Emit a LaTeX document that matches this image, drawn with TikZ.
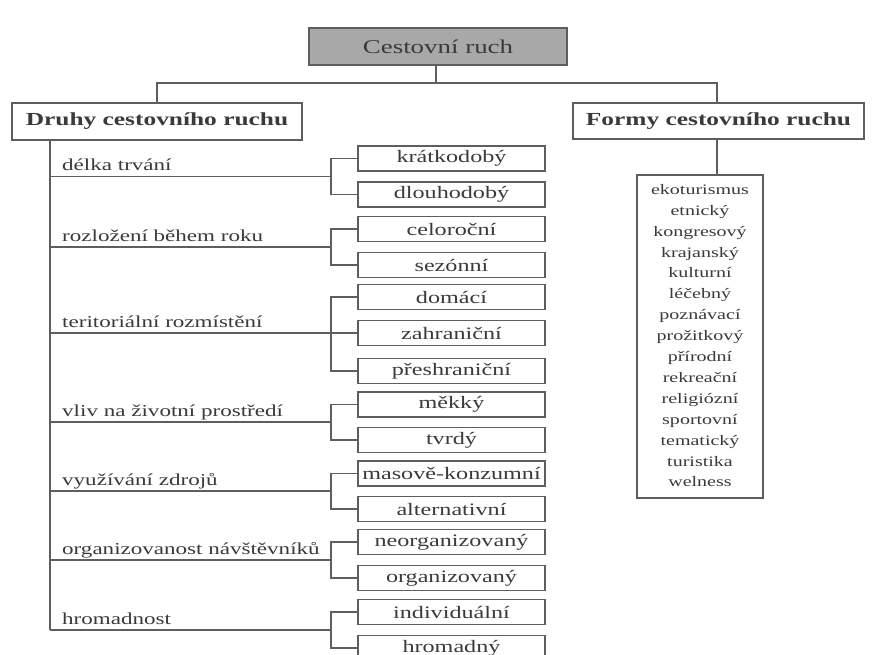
\documentclass[tikz,border=0pt]{standalone}
\usepackage{fontspec}
\setmainfont{Liberation Serif}
\usepackage{graphicx}
\definecolor{ink}{HTML}{3A3A3A}
\definecolor{edgec}{HTML}{5E5E5E}
\definecolor{topfill}{HTML}{A8A8A8}
\newcommand{\hs}[1]{\scalebox{1.38}[1]{#1}}
\begin{document}
\begin{tikzpicture}[x=1pt,y=-1pt,
  conn/.style={draw=edgec,line width=1.1pt},
  leafbox/.style={draw=edgec,line width=1.1pt,minimum width=187pt,minimum height=25pt,inner sep=0pt,text=ink,font=\fontsize{17.5}{20}\selectfont},
  headbox/.style={draw=edgec,line width=1.1pt,inner sep=0pt,text=ink,font=\bfseries\fontsize{18.4}{22}\selectfont},
  grplabel/.style={anchor=base west,inner sep=0pt,text=ink,font=\fontsize{16.7}{20}\selectfont}]
\useasboundingbox (0,0) rectangle (877,655);
\clip (0,0) rectangle (877,655);
\fill[white] (0,0) rectangle (877,655);
% top node and headings
\node[draw=edgec,line width=1.1pt,fill=topfill,minimum width=258pt,minimum height=37pt,inner sep=0pt,text=ink,font=\fontsize{19.5}{22}\selectfont] (top) at (438,46.5) {\hs{Cestovní ruch}};
\node[headbox,minimum width=290pt,minimum height=37pt] (druhy) at (157,121.5) {\hs{Druhy cestovního ruchu}};
\node[headbox,minimum width=291pt,minimum height=36pt] (formy) at (718.5,121) {\hs{Formy cestovního ruchu}};
\coordinate (bus) at (436,83);
\coordinate (fx) at (717,0);
\coordinate (spx) at (50,0);
\draw[conn] (top.south -| bus) -- (bus);
\draw[conn] (druhy.north) |- (bus) -| (formy.north -| fx);
% list of forms
\node[draw=edgec,line width=1.1pt,minimum width=126pt,minimum height=323pt,inner sep=0pt,text=ink,font=\fontsize{14.5}{20.9}\selectfont] (list) at (700,336.5)
 {\hs{\begin{tabular}{@{}c@{}}ekoturismus\\ etnický\\ kongresový\\ krajanský\\ kulturní\\ léčebný\\ poznávací\\ prožitkový\\ přírodní\\ rekreační\\ religiózní\\ sportovní\\ tematický\\ turistika\\ welness\end{tabular}}};
\draw[conn] (formy.south -| fx) -- (list.north -| fx);
% leaf boxes
\node[leafbox] (b1) at (451.5,158.5) {\hs{krátkodobý}};
\node[leafbox] (b2) at (451.5,194.5) {\hs{dlouhodobý}};
\node[leafbox] (b3) at (451.5,229) {\hs{celoroční}};
\node[leafbox] (b4) at (451.5,265) {\hs{sezónní}};
\node[leafbox] (b5) at (451.5,297) {\hs{domácí}};
\node[leafbox] (b6) at (451.5,333) {\hs{zahraniční}};
\node[leafbox] (b7) at (451.5,371) {\hs{přeshraniční}};
\node[leafbox] (b8) at (451.5,404.5) {\hs{měkký}};
\node[leafbox] (b9) at (451.5,440) {\hs{tvrdý}};
\node[leafbox] (b10) at (451.5,473.5) {\hs{masově-konzumní}};
\node[leafbox] (b11) at (451.5,509) {\hs{alternativní}};
\node[leafbox] (b12) at (451.5,542) {\hs{neorganizovaný}};
\node[leafbox] (b13) at (451.5,578) {\hs{organizovaný}};
\node[leafbox] (b14) at (451.5,612) {\hs{individuální}};
\node[leafbox] (b15) at (451.5,648) {\hs{hromadný}};
% group junctions
\coordinate (g1) at (331,176.5);
\coordinate (g2) at (331,247);
\coordinate (g3) at (331,333);
\coordinate (g4) at (331,422);
\coordinate (g5) at (331,491);
\coordinate (g6) at (331,560);
\coordinate (g7) at (331,630);
% group labels
\node[grplabel] (l1) at (62,170.5) {\hs{délka trvání}};
\node[grplabel] (l2) at (62,241) {\hs{rozložení během roku}};
\node[grplabel] (l3) at (62,327) {\hs{teritoriální rozmístění}};
\node[grplabel] (l4) at (62,416) {\hs{vliv na životní prostředí}};
\node[grplabel] (l5) at (62,485) {\hs{využívání zdrojů}};
\node[grplabel] (l6) at (62,554) {\hs{organizovanost návštěvníků}};
\node[grplabel] (l7) at (62,624) {\hs{hromadnost}};
% spine
\draw[conn] (druhy.south -| spx) -- (g7 -| spx);
\foreach \g in {g1,g2,g3,g4,g5,g6,g7} { \draw[conn] (\g -| spx) -- (\g); }
% brackets
\draw[conn] (b1.west) -| (g1) |- (b2.west);
\draw[conn] (b3.west) -| (g2) |- (b4.west);
\draw[conn] (b5.west) -| (g3) |- (b7.west);
\draw[conn] (g3) -- (b6.west);
\draw[conn] (b8.west) -| (g4) |- (b9.west);
\draw[conn] (b10.west) -| (g5) |- (b11.west);
\draw[conn] (b12.west) -| (g6) |- (b13.west);
\draw[conn] (b14.west) -| (g7) |- (b15.west);
\end{tikzpicture}
\end{document}
